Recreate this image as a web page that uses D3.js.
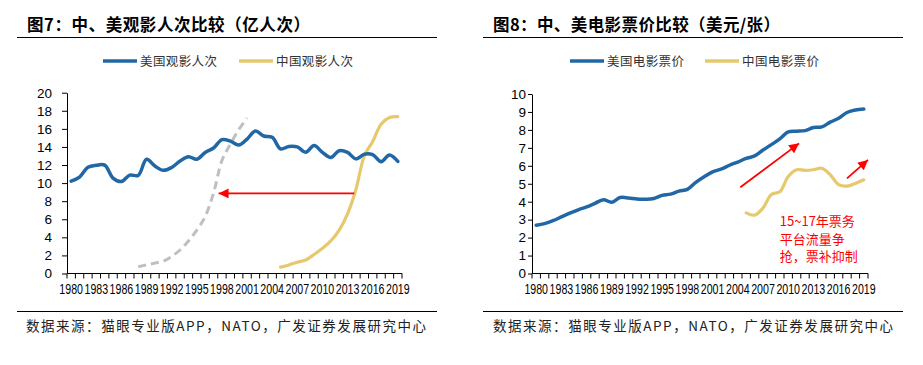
<!DOCTYPE html>
<html>
<head>
<meta charset="utf-8">
<script src="https://cdn.jsdelivr.net/npm/d3@7"></script>
<style>
  body { margin: 0; background: #fff; }
  svg { display: block; font-family: "Liberation Sans", Arial, sans-serif; }
  .cjk { font-family: "Noto Sans CJK SC", sans-serif; }
</style>
</head>
<body>
<div id="chart"></div>
<script>
// ---- data ----
const years = [1980, 1981, 1982, 1983, 1984, 1985, 1986, 1987, 1988, 1989,
  1990, 1991, 1992, 1993, 1994, 1995, 1996, 1997, 1998, 1999,
  2000, 2001, 2002, 2003, 2004, 2005, 2006, 2007, 2008, 2009,
  2010, 2011, 2012, 2013, 2014, 2015, 2016, 2017, 2018, 2019];
const xTickYears = [1980, 1983, 1986, 1989, 1992, 1995, 1998, 2001, 2004, 2007, 2010, 2013, 2016, 2019];

// chart 7: admissions (亿人次)
const usAdmissions = [10.22, 10.67, 11.75, 11.97, 11.99, 10.56, 10.17, 10.89, 10.85, 12.63,
  11.89, 11.41, 11.73, 12.44, 12.92, 12.63, 13.39, 13.88, 14.81, 14.65,
  14.21, 14.87, 15.76, 15.21, 15.06, 13.79, 14.06, 14.0, 13.41, 14.15,
  13.4, 12.83, 13.58, 13.39, 12.68, 13.2, 13.15, 12.36, 13.1, 12.4];
const cnYears = [2005, 2006, 2007, 2008, 2009, 2010, 2011, 2012, 2013, 2014, 2015, 2016, 2017, 2018, 2019];
const cnAdmissions = [0.7, 0.95, 1.25, 1.5, 2.1, 2.8, 3.6, 4.8, 6.6, 9.3, 13.0, 14.6, 16.5, 17.25, 17.35];
// grey dashed reference curve (no legend entry)
const refYears = [1988, 1989, 1990, 1991, 1992, 1993, 1994, 1995, 1996, 1997, 1998, 1999, 2000, 2001];
const refValues = [0.75, 0.95, 1.15, 1.35, 1.9, 2.6, 3.6, 4.8, 6.3, 8.9, 12.5, 14.3, 15.9, 17.2];
const yTicks7 = [0, 2, 4, 6, 8, 10, 12, 14, 16, 18, 20];

// chart 8: ticket price (美元/张)
const usPrice = [2.69, 2.78, 2.94, 3.15, 3.36, 3.55, 3.71, 3.91, 4.11, 3.97,
  4.23, 4.21, 4.15, 4.14, 4.18, 4.35, 4.42, 4.59, 4.69, 5.08,
  5.39, 5.66, 5.81, 6.03, 6.21, 6.41, 6.55, 6.88, 7.18, 7.5,
  7.89, 7.93, 7.96, 8.13, 8.17, 8.43, 8.65, 8.97, 9.11, 9.16];
const cnPrice = [3.38, 3.25, 3.65, 4.4, 4.55, 5.4, 5.78, 5.75, 5.78, 5.86, 5.5, 4.95, 4.87, 5.02, 5.22];
const yTicks8 = [0, 1, 2, 3, 4, 5, 6, 7, 8, 9, 10];

// annotations, in data units [year, value]
const arrows7 = [{ from: [2013.8, 8.86], to: [1997.6, 8.86] }];
const arrows8 = [{ from: [2004.3, 4.8], to: [2011.3, 7.25] }, { from: [2017.0, 5.3], to: [2019.5, 6.33] }];
const note8 = ['15~17年票务', '平台流量争', '抢，票补抑制'];

const C_BLUE = '#2167a6', C_YELLOW = '#e6c86e', C_GREY = '#bfbfbf', C_RED = '#ff0000';

const svg = d3.select('#chart').append('svg').attr('width', 923).attr('height', 365);

svg.append('defs').append('marker')
  .attr('id', 'arrowhead')
  .attr('viewBox', '0 0 10 10')
  .attr('refX', 10).attr('refY', 5)
  .attr('markerUnits', 'userSpaceOnUse')
  .attr('markerWidth', 11).attr('markerHeight', 10)
  .attr('orient', 'auto')
  .append('path').attr('d', 'M0,0L10,5L0,10Z').attr('fill', C_RED);

function drawChart(cfg) {
  const g = svg.append('g');

  // title + rule
  g.append('text').attr('class', 'cjk')
    .attr('x', cfg.titleX).attr('y', 31)
    .attr('font-size', 16.5).attr('font-weight', 'bold').attr('fill', '#000')
    .attr('textLength', cfg.titleW).attr('lengthAdjust', 'spacing')
    .text(cfg.title);
  g.append('line').attr('x1', cfg.ruleX0).attr('x2', cfg.ruleX1)
    .attr('y1', 37.5).attr('y2', 37.5).attr('stroke', '#000').attr('stroke-width', 1);

  // source rule + text
  g.append('line').attr('x1', cfg.ruleX0).attr('x2', cfg.ruleX1)
    .attr('y1', 311.5).attr('y2', 311.5).attr('stroke', '#000').attr('stroke-width', 1);
  g.append('text').attr('class', 'cjk')
    .attr('x', cfg.srcX).attr('y', 331)
    .attr('font-size', 13.5).attr('fill', '#222')
    .attr('textLength', 400).attr('lengthAdjust', 'spacing')
    .text('数据来源：猫眼专业版APP，NATO，广发证券发展研究中心');

  // legend
  cfg.legend.forEach(l => {
    g.append('line').attr('x1', l.x).attr('x2', l.x + 34)
      .attr('y1', 61).attr('y2', 61).attr('stroke', l.color).attr('stroke-width', 3.5);
    g.append('text').attr('class', 'cjk')
      .attr('x', l.x + 37).attr('y', 65.5)
      .attr('font-size', 12.5).attr('fill', '#333')
      .attr('textLength', 77).attr('lengthAdjust', 'spacing')
      .text(l.name);
  });

  // scales
  const x = d3.scaleBand().domain(years).range([cfg.x0, cfg.x1]).padding(0);
  const bw = x.bandwidth();
  const cx = yr => x(yr) + bw / 2;
  const xl = d3.scaleLinear().domain([years[0], years[years.length - 1]])
    .range([cx(years[0]), cx(years[years.length - 1])]);
  const y = d3.scaleLinear().domain(cfg.yDomain).range([273.5, cfg.yTop]);

  // y axis
  const ya = g.append('g').attr('transform', `translate(${cfg.x0},0)`)
    .call(d3.axisLeft(y).tickValues(cfg.yTicks).tickSize(cfg.yTickSize)
      .tickSizeOuter(0).tickPadding(cfg.yPad).tickFormat(d3.format('d')));
  ya.select('.domain').attr('stroke', '#000');
  ya.selectAll('.tick line').attr('stroke', '#000');
  ya.selectAll('text').attr('font-size', 13.5).attr('fill', '#000')
    .attr('font-family', '"Liberation Sans", Arial, sans-serif');

  // x axis: labels every 3 years (condensed), ticks on category boundaries
  const xa = g.append('g').attr('transform', 'translate(0,273.5)')
    .call(d3.axisBottom(x).tickValues(xTickYears).tickSize(0).tickPadding(11));
  xa.select('.domain').remove();
  xa.selectAll('text').attr('font-size', 14).attr('fill', '#000')
    .attr('font-family', '"Liberation Sans", Arial, sans-serif')
    .attr('transform', 'scale(0.76,1)');
  g.append('line').attr('x1', cfg.x0).attr('x2', cfg.x1)
    .attr('y1', 273.5).attr('y2', 273.5).attr('stroke', '#000');
  g.append('g').selectAll('line').data(years.concat([null])).join('line')
    .attr('x1', d => d === null ? cfg.x1 : x(d))
    .attr('x2', d => d === null ? cfg.x1 : x(d))
    .attr('y1', 273.5).attr('y2', 278.5).attr('stroke', '#000');

  // lines
  const line = d3.line().curve(d3.curveCatmullRom.alpha(0.5))
    .x(d => cx(d[0])).y(d => y(d[1]));
  cfg.series.forEach(s => {
    g.append('path')
      .attr('d', line(s.years.map((yr, i) => [yr, s.values[i]])))
      .attr('fill', 'none').attr('stroke', s.color).attr('stroke-width', s.width)
      .attr('stroke-linecap', s.dash ? 'butt' : 'round')
      .attr('stroke-linejoin', 'round')
      .attr('stroke-dasharray', s.dash || null);
  });

  // arrows
  cfg.arrows.forEach(a => {
    g.append('line')
      .attr('x1', xl(a.from[0])).attr('y1', y(a.from[1]))
      .attr('x2', xl(a.to[0])).attr('y2', y(a.to[1]))
      .attr('stroke', C_RED).attr('stroke-width', 1.8)
      .attr('marker-end', 'url(#arrowhead)');
  });

  // note
  if (cfg.note) {
    const t = g.append('text').attr('class', 'cjk')
      .attr('font-size', 13).attr('fill', C_RED);
    cfg.note.lines.forEach((ln, i) => {
      t.append('tspan').attr('x', xl(cfg.note.at[0]))
        .attr('y', y(cfg.note.at[1]) + i * 17.5).text(ln);
    });
  }
}

drawChart({
  title: '图7：中、美观影人次比较（亿人次）', titleX: 27, titleW: 283,
  ruleX0: 17, ruleX1: 437, srcX: 26,
  legend: [{ name: '美国观影人次', color: C_BLUE, x: 103 }, { name: '中国观影人次', color: C_YELLOW, x: 239 }],
  x0: 67, x1: 402, yDomain: [0, 20], yTop: 92.7, yTicks: yTicks7, yTickSize: 5, yPad: 10,
  series: [
    { years: refYears, values: refValues, color: C_GREY, width: 3, dash: '8,5' },
    { years: cnYears, values: cnAdmissions, color: C_YELLOW, width: 3.2 },
    { years: years, values: usAdmissions, color: C_BLUE, width: 3.5 }
  ],
  arrows: arrows7
});

drawChart({
  title: '图8：中、美电影票价比较（美元/张）', titleX: 493, titleW: 287,
  ruleX0: 483, ruleX1: 903, srcX: 493,
  legend: [{ name: '美国电影票价', color: C_BLUE, x: 570 }, { name: '中国电影票价', color: C_YELLOW, x: 705 }],
  x0: 532, x1: 868, yDomain: [0, 10], yTop: 94, yTicks: yTicks8, yTickSize: 4, yPad: 2,
  series: [
    { years: cnYears, values: cnPrice, color: C_YELLOW, width: 3.2 },
    { years: years, values: usPrice, color: C_BLUE, width: 3.5 }
  ],
  arrows: arrows8,
  note: { lines: note8, at: [2009.0, 2.62] }
});
</script>
</body>
</html>
